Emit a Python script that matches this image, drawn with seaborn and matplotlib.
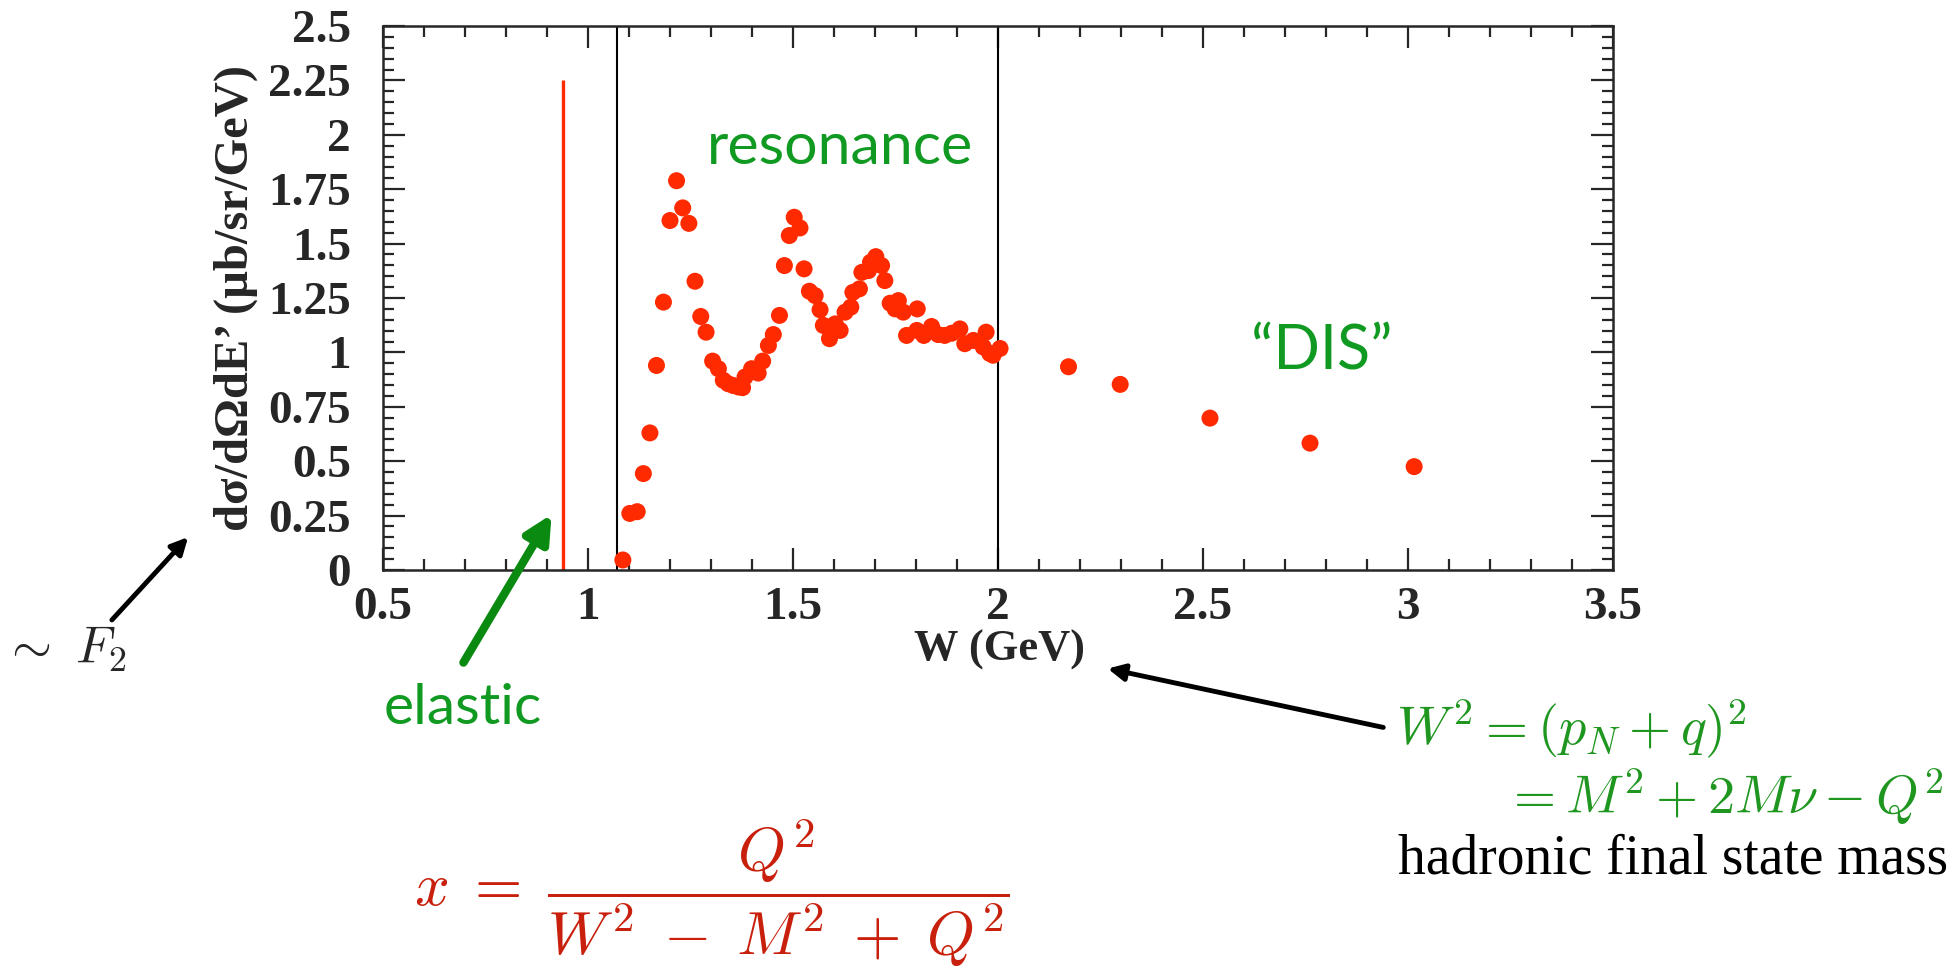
import matplotlib
matplotlib.use("Agg")
import matplotlib.pyplot as plt
from matplotlib.ticker import MultipleLocator
import seaborn as sns
import pandas as pd

w_gev = [1.085, 1.102, 1.120, 1.135, 1.151, 1.167, 1.184, 1.200, 1.216, 1.231,
         1.246, 1.261, 1.275, 1.288, 1.304, 1.318, 1.330, 1.342, 1.354, 1.367,
         1.377, 1.383, 1.399, 1.415, 1.426, 1.440, 1.452, 1.467, 1.479, 1.491,
         1.503, 1.517, 1.527, 1.540, 1.554, 1.566, 1.574, 1.589, 1.603, 1.615,
         1.627, 1.641, 1.646, 1.662, 1.668, 1.684, 1.689, 1.702, 1.716, 1.724,
         1.737, 1.757, 1.749, 1.769, 1.777, 1.802, 1.803, 1.819, 1.838, 1.854,
         1.870, 1.887, 1.907, 1.919, 1.940, 1.964, 1.971, 1.980, 1.988, 2.005,
         2.172, 2.298, 2.517, 2.761, 3.015]
xsec = [0.046, 0.260, 0.268, 0.443, 0.630, 0.940, 1.231, 1.606, 1.789, 1.664,
        1.593, 1.327, 1.165, 1.093, 0.960, 0.925, 0.872, 0.856, 0.848, 0.841,
        0.838, 0.887, 0.925, 0.905, 0.960, 1.032, 1.082, 1.170, 1.399, 1.537,
        1.621, 1.572, 1.384, 1.281, 1.261, 1.196, 1.124, 1.063, 1.131, 1.101,
        1.185, 1.208, 1.276, 1.292, 1.368, 1.376, 1.414, 1.440, 1.399, 1.330,
        1.226, 1.238, 1.200, 1.185, 1.078, 1.101, 1.200, 1.078, 1.119, 1.082,
        1.078, 1.088, 1.108, 1.040, 1.055, 1.025, 1.093, 0.995, 0.987, 1.018,
        0.934, 0.853, 0.698, 0.583, 0.475]

elastic_w = 0.938
elastic_peak = 2.25
region_edges = [1.07, 2.0]

x_ticks = [0.5, 1, 1.5, 2, 2.5, 3, 3.5]
x_ticklabels = ["0.5", "1", "1.5", "2", "2.5", "3", "3.5"]
y_ticks = [0, 0.25, 0.5, 0.75, 1, 1.25, 1.5, 1.75, 2, 2.25, 2.5]
y_ticklabels = ["0", "0.25", "0.5", "0.75", "1", "1.25", "1.5", "1.75", "2", "2.25", "2.5"]

df = pd.DataFrame({"W": w_gev, "xsec": xsec})

sns.set_style("ticks")
plt.rcParams["font.family"] = ["Liberation Serif", "DejaVu Serif"]
plt.rcParams["mathtext.fontset"] = "cm"

RED = "#ff2a00"
GREEN = "#119a22"
LGREEN = "#1f961f"
DRED = "#c8200c"
W_, H_ = 1959, 975

fig = plt.figure(figsize=(19.59, 9.75), dpi=100)
ax = fig.add_axes([383 / W_, 1 - 570 / H_, (1613 - 383) / W_, (570 - 26) / H_])

sns.scatterplot(data=df, x="W", y="xsec", ax=ax, color=RED, s=150,
                edgecolor="none", zorder=3)
ax.vlines(elastic_w, 0, elastic_peak, color=RED, lw=2.4, zorder=2)
for e in region_edges:
    ax.axvline(e, color="black", lw=1.5, zorder=1)

ax.set_xlim(0.5, 3.5)
ax.set_ylim(0, 2.5)
ax.set_xticks(x_ticks)
ax.set_xticklabels(x_ticklabels)
ax.set_yticks(y_ticks)
ax.set_yticklabels(y_ticklabels)
ax.xaxis.set_minor_locator(MultipleLocator(0.1))
ax.yaxis.set_minor_locator(MultipleLocator(0.05))
ax.tick_params(which="both", direction="in", top=True, right=True, width=1.6)
ax.tick_params(which="major", length=16, labelsize=34)
ax.tick_params(which="minor", length=8)
ax.tick_params(axis="x", which="major", pad=12)
ax.tick_params(axis="y", which="major", pad=23)
for lab in ax.get_xticklabels() + ax.get_yticklabels():
    lab.set_fontweight("bold")
for sp in ax.spines.values():
    sp.set_linewidth(1.8)

ax.set_xlabel("W (GeV)", fontsize=32, fontweight="bold")
ax.set_ylabel("dσ/dΩdE’ (μb/sr/GeV)", fontsize=35, fontweight="bold")
ax.xaxis.label.set(va="center")
ax.xaxis.set_label_coords((1000 - 383) / 1230, (570 - 650) / 544)
ax.yaxis.label.set(va="center", rotation_mode="default")
ax.yaxis.set_label_coords((236 - 383) / 1230, 0.5)

def fx(px):
    return px / W_

def fy(py):
    return 1 - py / H_

sans = ["Lato", "DejaVu Sans"]
fig.text(fx(840), fy(147), "resonance", color=GREEN, fontsize=42.5, family=sans,
         ha="center", va="center")
fig.text(fx(1322), fy(352), "“DIS”", color=GREEN, fontsize=44, family=sans,
         ha="center", va="center")
fig.text(fx(463), fy(708), "elastic", color=GREEN, fontsize=41, family=sans,
         ha="center", va="center")

fig.text(fx(2), fy(663), r"$\sim\ F_2$", fontsize=37, ha="left", va="baseline")

fig.text(fx(1396), fy(745), r"$W^2 = (p_N + q)^2$", color=LGREEN, fontsize=39,
         ha="left", va="baseline")
fig.text(fx(1943), fy(814), r"$= M^2 + 2M\nu - Q^2$", color=LGREEN, fontsize=39,
         ha="right", va="baseline")
fig.text(fx(1948), fy(874), "hadronic final state mass", color="black",
         fontsize=40, ha="right", va="baseline")
fig.text(fx(712), fy(893),
         r"$x\;=\;\dfrac{Q^2}{W^2\;-\;M^2\;+\;Q^2}$", color=DRED,
         fontsize=44, ha="center", va="center")

# arrows
ax.annotate("", xy=(fx(553), fy(512)), xycoords="figure fraction",
            xytext=(fx(462), fy(665)), textcoords="figure fraction",
            arrowprops=dict(arrowstyle="-|>,head_length=1.6,head_width=0.8",
                            color="#0a8a10", lw=6), annotation_clip=False)
ax.annotate("", xy=(fx(190), fy(535)), xycoords="figure fraction",
            xytext=(fx(110), fy(622)), textcoords="figure fraction",
            arrowprops=dict(arrowstyle="-|>,head_length=1.0,head_width=0.5",
                            color="black", lw=3.5), annotation_clip=False)
ax.annotate("", xy=(fx(1105), fy(668)), xycoords="figure fraction",
            xytext=(fx(1386), fy(728)), textcoords="figure fraction",
            arrowprops=dict(arrowstyle="-|>,head_length=1.0,head_width=0.5",
                            color="black", lw=3.5), annotation_clip=False)

fig.savefig("out.png", dpi=100)
